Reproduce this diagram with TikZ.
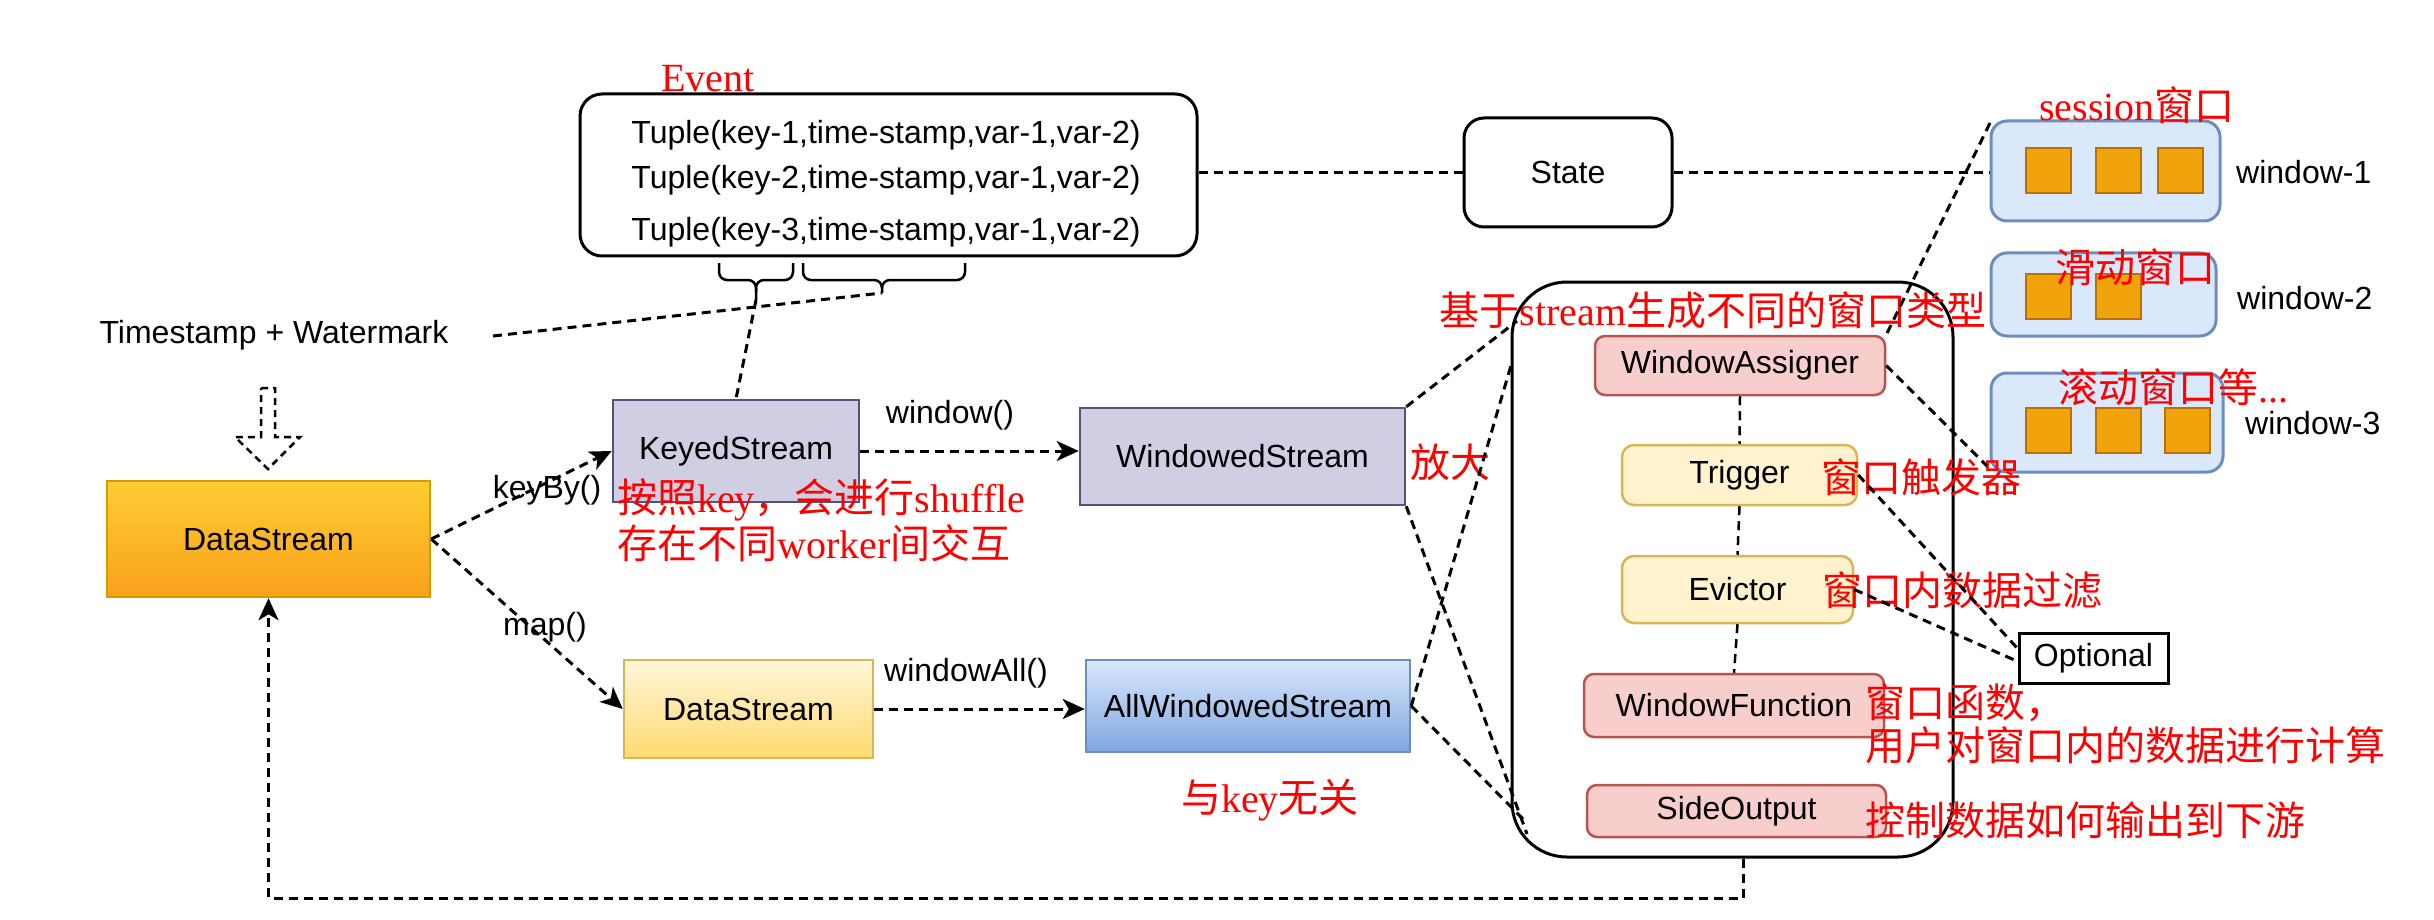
\documentclass[tikz,border=0pt]{standalone}
\usepackage{fontspec}
\setmainfont{Liberation Sans}
\newfontfamily\cjk{Noto Sans CJK SC}
\newfontfamily\rser{Liberation Serif}
\usetikzlibrary{arrows.meta,shadings}
\definecolor{dsTop}{HTML}{FFCC33}
\definecolor{dsBot}{HTML}{F9A11B}
\definecolor{dsLine}{HTML}{D79B00}
\definecolor{ylTop}{HTML}{FFF6DB}
\definecolor{ylBot}{HTML}{FFDA6E}
\definecolor{ylLine}{HTML}{D6B656}
\definecolor{ylFill}{HTML}{FFF2CC}
\definecolor{puFill}{HTML}{D0CEE2}
\definecolor{puLine}{HTML}{56517E}
\definecolor{blTop}{HTML}{DAE8FC}
\definecolor{blBot}{HTML}{7EA6E0}
\definecolor{blLine}{HTML}{6C8EBF}
\definecolor{pkFill}{HTML}{F8CECC}
\definecolor{pkLine}{HTML}{B85450}
\definecolor{sqFill}{HTML}{F0A30A}
\definecolor{sqLine}{HTML}{BD7000}
\definecolor{redtxt}{HTML}{FF0000}
\begin{document}
\begin{tikzpicture}[x=1pt,y=-1pt,
  lbl/.style={font=\fontsize{32}{38}\selectfont, inner sep=0pt},
  rtxt/.style={text=redtxt, font=\fontsize{40}{48}\selectfont\cjk, inner sep=0pt},
  box/.style={draw, line width=2.5pt, inner sep=0pt, font=\fontsize{32}{38}\selectfont},
  purplebox/.style={box, fill=puFill, draw=puLine},
  pinkbox/.style={box, fill=pkFill, draw=pkLine, rounded corners=10pt},
  yellowbox/.style={box, fill=ylFill, draw=ylLine, rounded corners=12pt},
  winbox/.style={box, line width=3pt, fill=blTop, draw=blLine, rounded corners=16pt},
  sq/.style={draw=sqLine, fill=sqFill, line width=2pt, minimum width=45pt, minimum height=45pt, inner sep=0pt},
  conn/.style={line width=3pt, dash pattern=on 9pt off 6pt},
  arr/.style={conn, -{Stealth[length=22pt,width=20pt,inset=6pt]}},
]
\useasboundingbox (0,0) rectangle (2434,920);
\fill[white] (0,0) rectangle (2434,920);

% Event box
\node[box, line width=3pt, rounded corners=22pt, minimum width=617pt, minimum height=162pt] (ev) at (888.5,175) {};
\node[rtxt] (evl) at (708,79) {\rser Event};
\node[lbl] (t1) at (886,135) {Tuple(key-1,time-stamp,var-1,var-2)};
\node[lbl] (t2) at (886,180) {Tuple(key-2,time-stamp,var-1,var-2)};
\node[lbl] (t3) at (886,232) {Tuple(key-3,time-stamp,var-1,var-2)};
% braces
\coordinate (b1) at (756,300);
\coordinate (b2) at (882,293);
\draw[line width=2.5pt, rounded corners=8pt] (719,263) -- (719,280) -- (756,280) -- (b1);
\draw[line width=2.5pt, rounded corners=8pt] (793,263) -- (793,280) -- (756,280) -- (756,292);
\draw[line width=2.5pt, rounded corners=8pt] (803,263) -- (803,280) -- (882,280) -- (b2);
\draw[line width=2.5pt, rounded corners=8pt] (965,263) -- (965,280) -- (882,280) -- (882,288);

% State
\node[box, line width=3pt, rounded corners=20pt, minimum width=208pt, minimum height=109pt] (st) at (1568,172.5) {State};

% windows
\node[winbox, minimum width=229pt, minimum height=100pt] (w1) at (2105.5,171) {};
\node[sq] (w1a) at (2048.5,170.5) {};
\node[sq] (w1b) at (2118,170.5) {};
\node[sq] (w1c) at (2180.5,170.5) {};
\node[lbl, anchor=west] (w1l) at (2236,172) {window-1};
\node[rtxt] (w1r) at (2137,105) {{\rser session}窗口};

\node[winbox, minimum width=225pt, minimum height=83pt] (w2) at (2103.5,294.5) {};
\node[sq] (w2a) at (2048.5,296) {};
\node[sq] (w2b) at (2118,296) {};
\node[lbl, anchor=west] (w2l) at (2237,298) {window-2};
\node[rtxt] (w2r) at (2135,267) {滑动窗口};

\node[winbox, minimum width=232pt, minimum height=99pt] (w3) at (2107,422.5) {};
\node[sq] (w3a) at (2048.5,430) {};
\node[sq] (w3b) at (2118,430) {};
\node[sq] (w3c) at (2187.5,430) {};
\node[lbl, anchor=west] (w3l) at (2245,423) {window-3};
\node[rtxt] (w3r) at (2173,387) {滚动窗口等{\rser ...}};

% container
\node[box, line width=3pt, rounded corners=55pt, minimum width=441pt, minimum height=575pt] (ct) at (1732.5,569.5) {};
\node[rtxt] (ctl) at (1713,310) {基于{\rser stream}生成不同的窗口类型};
\node[pinkbox, minimum width=290pt, minimum height=59pt] (wa) at (1740,365.5) {WindowAssigner};
\node[yellowbox, minimum width=235pt, minimum height=60pt] (tr) at (1739.5,475) {Trigger};
\node[yellowbox, minimum width=231pt, minimum height=67pt] (evi) at (1737.5,589.5) {Evictor};
\node[pinkbox, minimum width=300pt, minimum height=63pt] (wf) at (1734,705.5) {WindowFunction};
\node[pinkbox, minimum width=299pt, minimum height=52pt] (so) at (1736.5,811) {SideOutput};
\draw[conn, line width=2.5pt] (wa.south) -- (tr.north);
\draw[conn, line width=2.5pt] (tr.south) -- (evi.north);
\draw[conn, line width=2.5pt] (evi.south) -- (wf.north);

\node[rtxt, anchor=west] (trl) at (1821,477) {窗口触发器};
\node[rtxt, anchor=west] (evl2) at (1822,590) {窗口内数据过滤};
\node[rtxt, anchor=west] (wfl1) at (1865,703) {窗口函数，};
\node[rtxt, anchor=west] (wfl2) at (1865,745) {用户对窗口内的数据进行计算};
\node[rtxt, anchor=west] (sol) at (1865,820) {控制数据如何输出到下游};

% Optional
\node[box, line width=3pt, minimum width=149pt, minimum height=50pt, fill=white] (opt) at (2093.5,658) {Optional};
\coordinate (op1) at (2019,650);
\coordinate (op2) at (2019,662);
\draw[conn] (tr.east) -- (op1);
\draw[conn] (evi.east) -- (op2);

% left part
\node[lbl] (tw) at (274,335) {Timestamp + Watermark};
\coordinate (twe) at (493,336);
\draw[conn] (twe) -- (b2);

\node[box, draw=dsLine, top color=dsTop, bottom color=dsBot, minimum width=323pt, minimum height=116pt] (ds) at (268.5,539) {DataStream};
\node[purplebox, minimum width=246pt, minimum height=102pt] (ks) at (736,451) {KeyedStream};
\node[purplebox, minimum width=325pt, minimum height=97pt] (ws) at (1242.5,456.5) {WindowedStream};
\node[box, draw=ylLine, top color=ylTop, bottom color=ylBot, minimum width=249pt, minimum height=98pt] (ds2) at (748.5,709) {DataStream};
\node[box, draw=blLine, top color=blTop, bottom color=blBot, minimum width=324pt, minimum height=92pt] (aws) at (1248,706) {AllWindowedStream};

\draw[conn] (b1) -- (ks.north);

% hollow arrow
\draw[line width=2.5pt, dash pattern=on 7pt off 5pt] (261,388) -- (275,388) -- (275,437) -- (300,437) -- (268,469) -- (235,437) -- (261,437) -- cycle;

\draw[arr] (ds.east) -- (ks.west);
\draw[arr] (ds.east) -- (ds2.west);
\draw[arr] (ks.east) -- (ks.east -| ws.west);
\draw[arr] (ds2.east) -- (ds2.east -| aws.west);
\node[lbl] (kb) at (547,490) {keyBy()};
\node[lbl] (mp) at (545,627) {map()};
\node[lbl] (wl) at (950,415) {window()};
\node[lbl] (wal) at (966,673) {windowAll()};
\node[rtxt, anchor=west] (ksl1) at (617,500) {按照{\rser key}，会进行{\rser shuffle}};
\node[rtxt, anchor=west] (ksl2) at (617,543) {存在不同{\rser worker}间交互};
\node[rtxt] (awl) at (1270,800) {与{\rser key}无关};
\node[rtxt] (fd) at (1450,462) {放大};

% state lines
\draw[conn] (st.west -| ev.east) -- (st.west);
\draw[conn] (st.east) -- (st.east -| w1.west);

% magnification lines
\coordinate (ct1) at (1517,321);
\coordinate (ct2) at (1527,834);
\coordinate (ct3) at (1512,362);
\coordinate (ct4) at (1527,823);
\draw[conn] (ws.north east) -- (ct1);
\draw[conn] (ws.south east) -- (ct2);
\draw[conn] (aws.east) -- (ct3);
\draw[conn] (aws.east) -- (ct4);
\coordinate (w1c1) at (1990,123);
\coordinate (w3c1) at (1987,466);
\draw[conn] (w1c1) -- (wa.north east);
\draw[conn] (wa.east) -- (w3c1);

% feedback
\coordinate (fb) at (1743,898);
\draw[arr] (fb |- ct.south) -- (fb) -| (ds.south);
\end{tikzpicture}
\end{document}
